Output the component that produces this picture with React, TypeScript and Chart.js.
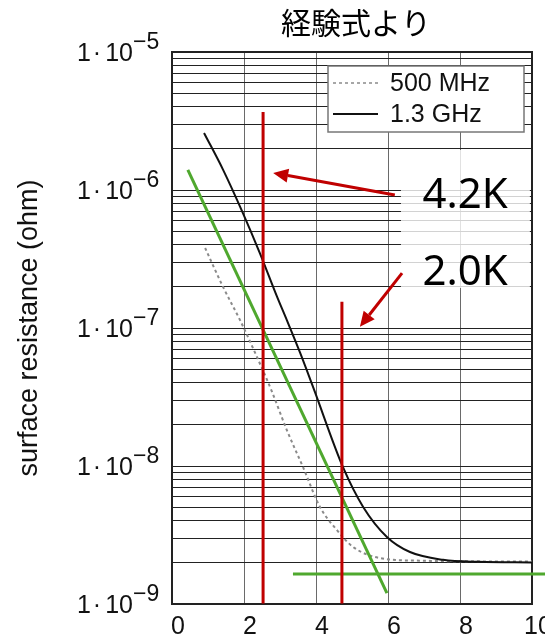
import React, { useEffect, useRef } from "react";
import { Chart, registerables } from "chart.js";

Chart.register(...registerables);

// ---------- text ----------
const titleText = "経験式より";
const yAxisTitle = "surface resistance (ohm)";

// ---------- axes ----------
const xMin = 0;
const xMax = 10;
const xStep = 2;
const yMin = 1e-9;
const yMax = 1e-5;
const yDecadeValues = [1e-9, 1e-8, 1e-7, 1e-6, 1e-5];
const yDecadeLead = ["1", "1", "1", "1", "1"];
const yDecadeBase = ["10", "10", "10", "10", "10"];
const yDecadeExponents = ["−9", "−8", "−7", "−6", "−5"];
const yMinorMantissas = [1, 2, 3, 4, 5, 6, 7, 8, 9];

// ---------- series ----------
const series500Label = "500 MHz";
const series500X = [0.92, 1.42, 1.89, 2.31, 2.78, 3.19, 3.64, 4.11, 4.58, 5.03, 5.78, 6.89, 10];
const series500Y = [3.8e-7, 1.98e-7, 1.14e-7, 6.6e-8, 3.44e-8, 1.82e-8, 9.8e-9, 5.05e-9, 3.44e-9, 2.59e-9, 2.15e-9, 2.06e-9, 2.03e-9];

const series13Label = "1.3 GHz";
const series13X = [0.89, 1.42, 1.97, 2.44, 2.92, 3.19, 3.56, 3.92, 4.75, 5.31, 5.97, 6.61, 7.53, 8.5, 10];
const series13Y = [2.59e-6, 1.4e-6, 6.8e-7, 3.49e-7, 1.68e-7, 1.14e-7, 6.6e-8, 3.73e-8, 9.8e-9, 5.05e-9, 3.06e-9, 2.38e-9, 2.09e-9, 2.02e-9, 2.0e-9];

// ---------- annotations (data units) ----------
const red42X = [2.53, 2.53];
const red42Y = [3.67e-6, 1.01e-9];
const red20X = [4.72, 4.72];
const red20Y = [1.55e-7, 1.01e-9];
const greenSlopeX = [0.44, 5.97];
const greenSlopeY = [1.4e-6, 1.2e-9];
const greenFloorX = [3.36, 10.4];
const greenFloorY = [1.65e-9, 1.65e-9];

const arrow42From = [6.19, 9.2e-7];
const arrow42To = [2.81, 1.33e-6];
const arrow20From = [6.39, 2.5e-7];
const arrow20To = [5.22, 1.02e-7];

const tempLabels = ["4.2K", "2.0K"];
const tempLabelX = [8.14, 8.14];
const tempLabelY = [7.4e-7, 2.05e-7];
const labelBoxX = [6.36, 9.94];
const labelBoxY = [1.95e-6, 1.95e-7];

const RED = "#c00000";
const GREEN = "#4fa82e";

const pts = (xs: number[], ys: number[]) => xs.map((x, i) => ({ x, y: ys[i] }));

function drawArrow(ctx: CanvasRenderingContext2D, x1: number, y1: number, x2: number, y2: number) {
  const ang = Math.atan2(y2 - y1, x2 - x1);
  const head = 15;
  const hw = 7;
  const bx = x2 - head * Math.cos(ang);
  const by = y2 - head * Math.sin(ang);
  ctx.beginPath();
  ctx.moveTo(x1, y1);
  ctx.lineTo(bx, by);
  ctx.stroke();
  ctx.beginPath();
  ctx.moveTo(x2, y2);
  ctx.lineTo(bx + hw * Math.sin(ang), by - hw * Math.cos(ang));
  ctx.lineTo(bx - hw * Math.sin(ang), by + hw * Math.cos(ang));
  ctx.closePath();
  ctx.fill();
}

const decorPlugin = {
  id: "decor",
  beforeDatasetsDraw(chart: any) {
    const { ctx, chartArea: a, scales } = chart;
    const x = scales.x;
    const y = scales.y;
    ctx.save();
    const bx0 = x.getPixelForValue(labelBoxX[0]);
    const bx1 = x.getPixelForValue(labelBoxX[1]);
    const by0 = y.getPixelForValue(labelBoxY[0]);
    const by1 = y.getPixelForValue(labelBoxY[1]);
    ctx.fillStyle = "rgba(255,255,255,0.8)";
    ctx.fillRect(bx0, by0, bx1 - bx0, by1 - by0);
    ctx.strokeStyle = "#222";
    ctx.lineWidth = 2;
    ctx.strokeRect(a.left, a.top, a.right - a.left, a.bottom - a.top);
    ctx.restore();
  },
  afterDatasetsDraw(chart: any) {
    const { ctx, chartArea: a, scales } = chart;
    const x = scales.x;
    const y = scales.y;
    ctx.save();
    ctx.strokeStyle = RED;
    ctx.fillStyle = RED;
    ctx.lineWidth = 3;
    drawArrow(ctx, x.getPixelForValue(arrow42From[0]), y.getPixelForValue(arrow42From[1]),
      x.getPixelForValue(arrow42To[0]), y.getPixelForValue(arrow42To[1]));
    drawArrow(ctx, x.getPixelForValue(arrow20From[0]), y.getPixelForValue(arrow20From[1]),
      x.getPixelForValue(arrow20To[0]), y.getPixelForValue(arrow20To[1]));
    ctx.fillStyle = "#000";
    ctx.font = '42px "Noto Sans"';
    ctx.textAlign = "center";
    ctx.textBaseline = "alphabetic";
    tempLabels.forEach((t, i) => {
      ctx.fillText(t, x.getPixelForValue(tempLabelX[i]), y.getPixelForValue(tempLabelY[i]));
    });
    // legend
    const items = chart.data.datasets.filter((d: any) => d.label === series500Label || d.label === series13Label)
      .sort((p: any) => (p.label === series500Label ? -1 : 1));
    const lw = 196;
    const lh = 66;
    const lx = a.right - 8 - lw;
    const ly = a.top + 14;
    ctx.fillStyle = "#fff";
    ctx.fillRect(lx, ly, lw, lh);
    ctx.strokeStyle = "#777";
    ctx.lineWidth = 1.5;
    ctx.strokeRect(lx, ly, lw, lh);
    ctx.font = '25px "Liberation Sans"';
    ctx.textAlign = "left";
    ctx.textBaseline = "middle";
    items.forEach((d: any, i: number) => {
      const cy = ly + 17 + i * 31;
      ctx.save();
      ctx.strokeStyle = d.borderColor;
      ctx.lineWidth = d.borderDash ? 1.5 : 2;
      ctx.setLineDash(d.borderDash || []);
      ctx.beginPath();
      ctx.moveTo(lx + 5, cy);
      ctx.lineTo(lx + 50, cy);
      ctx.stroke();
      ctx.restore();
      ctx.fillStyle = "#111";
      ctx.fillText(d.label, lx + 62, cy + 1);
    });
    ctx.restore();
  },
  afterDraw(chart: any) {
    const { ctx, chartArea: a, scales } = chart;
    const y = scales.y;
    ctx.save();
    ctx.fillStyle = "#000";
    ctx.font = '30px "Noto Sans CJK JP"';
    ctx.textAlign = "center";
    ctx.textBaseline = "middle";
    ctx.fillText(titleText, (a.left + a.right) / 2 + 4, 23);
    ctx.fillStyle = "#111";
    ctx.textBaseline = "alphabetic";
    yDecadeValues.forEach((v, i) => {
      const py = y.getPixelForValue(v);
      ctx.font = '25px "Liberation Sans"';
      ctx.textAlign = "right";
      ctx.fillText(yDecadeLead[i], 91, py + 8.5);
      ctx.textAlign = "center";
      ctx.fillText("·", 97, py + 8.5);
      ctx.textAlign = "right";
      ctx.fillText(yDecadeBase[i], 133, py + 8.5);
      ctx.font = '23px "Liberation Sans"';
      ctx.textAlign = "left";
      ctx.fillText(yDecadeExponents[i], 133, py - 3);
    });
    ctx.restore();
  },
};

export default function App() {
  const ref = useRef<HTMLCanvasElement | null>(null);
  useEffect(() => {
    if (!ref.current) return;
    const gridValues: number[] = [];
    yDecadeValues.slice(0, -1).forEach((d) => {
      yMinorMantissas.forEach((m) => gridValues.push(Number((m * d).toPrecision(3))));
    });
    gridValues.push(yDecadeValues[yDecadeValues.length - 1]);

    const chart = new Chart(ref.current, {
      type: "line",
      data: {
        datasets: [
          { label: "red42", data: pts(red42X, red42Y), borderColor: RED, borderWidth: 3, pointRadius: 0 },
          { label: "red20", data: pts(red20X, red20Y), borderColor: RED, borderWidth: 3, pointRadius: 0 },
          { label: "greenSlope", data: pts(greenSlopeX, greenSlopeY), borderColor: GREEN, borderWidth: 3, pointRadius: 0 },
          { label: "greenFloor", data: pts(greenFloorX, greenFloorY), borderColor: GREEN, borderWidth: 3, pointRadius: 0, clip: false },
          {
            label: series13Label, data: pts(series13X, series13Y), borderColor: "#111", borderWidth: 2,
            pointRadius: 0, cubicInterpolationMode: "monotone",
          },
          {
            label: series500Label, data: pts(series500X, series500Y), borderColor: "#8a8a8a", borderWidth: 2,
            borderDash: [3, 3], pointRadius: 0, cubicInterpolationMode: "monotone",
          },
        ] as any,
      },
      options: {
        animation: false,
        responsive: false,
        layout: { padding: { top: 52, right: 13, bottom: 0, left: 0 } },
        plugins: { legend: { display: false }, tooltip: { enabled: false }, title: { display: false } },
        scales: {
          x: {
            type: "linear",
            min: xMin,
            max: xMax,
            afterFit: (s: any) => { s.height = 36; s.paddingLeft = 0; s.paddingRight = 0; },
            ticks: {
              stepSize: xStep, font: { family: "Liberation Sans", size: 25 }, color: "#111",
              padding: 8, labelOffset: 6, maxRotation: 0, autoSkip: false,
            },
            grid: { color: "#6a6a6a", lineWidth: 1, drawTicks: false },
            border: { display: false },
          },
          y: {
            type: "logarithmic",
            min: yMin,
            max: yMax,
            afterBuildTicks: (s: any) => { s.ticks = gridValues.map((v) => ({ value: v })); },
            afterFit: (s: any) => { s.width = 172; s.paddingTop = 0; s.paddingBottom = 0; },
            ticks: { display: false },
            grid: { color: "#222", lineWidth: 1, drawTicks: false },
            border: { display: false },
            title: {
              display: true, text: yAxisTitle, color: "#111",
              font: { family: "Liberation Sans", size: 27 }, padding: { top: 13, bottom: 0 },
            },
          },
        },
      } as any,
      plugins: [decorPlugin],
    });
    return () => chart.destroy();
  }, []);
  return (
    <div style={{ position: "fixed", left: 0, top: 0, width: 545, height: 640, background: "#fff" }}>
      <canvas ref={ref} width={545} height={640} style={{ display: "block" }} />
    </div>
  );
}
